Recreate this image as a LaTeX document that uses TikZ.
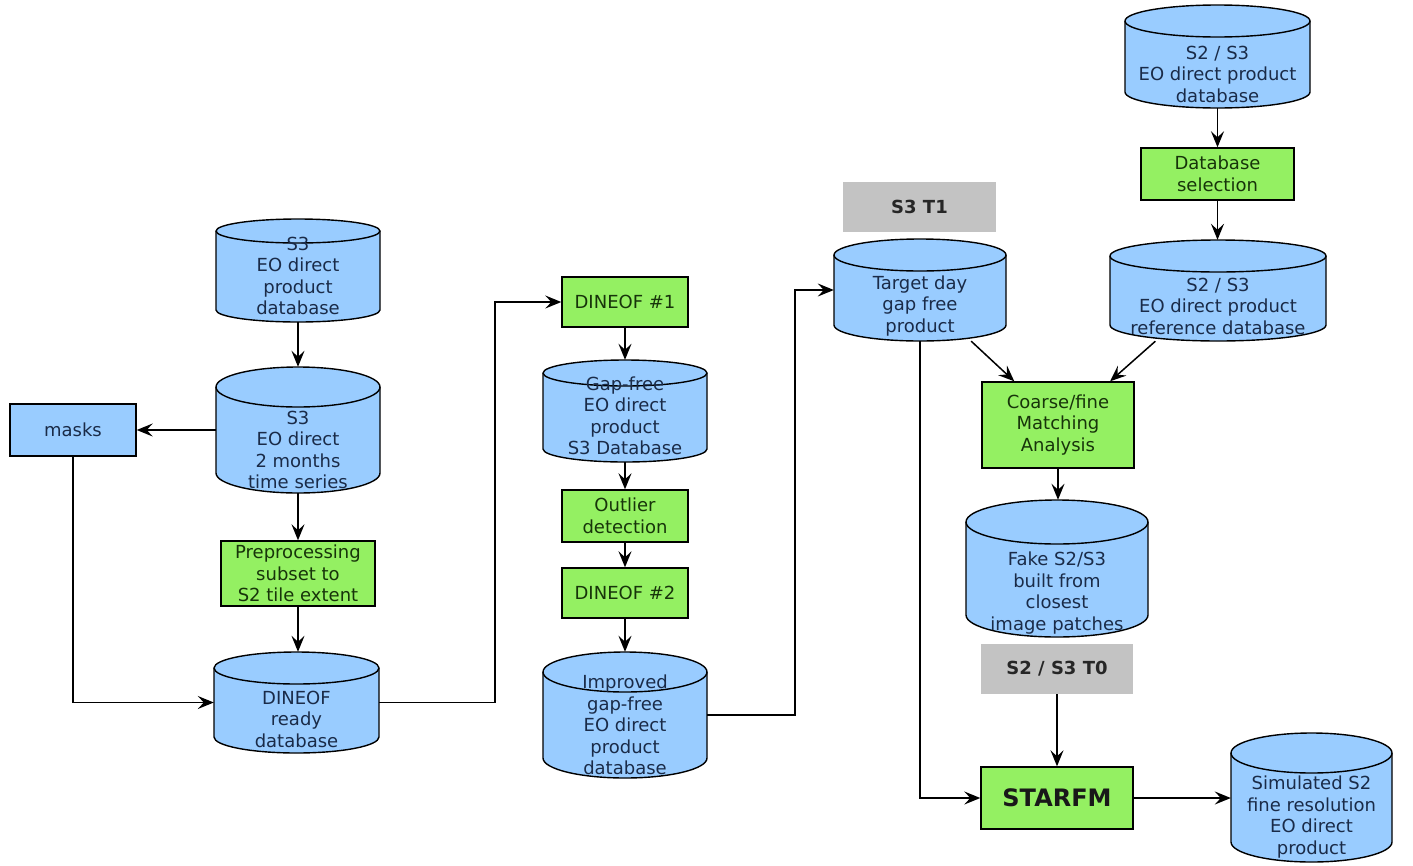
\documentclass[tikz,border=0pt]{standalone}
\usepackage{fontspec}
\setmainfont{DejaVu Sans}
\usetikzlibrary{arrows.meta,calc}
\definecolor{cylblue}{HTML}{99CCFF}
\definecolor{boxgreen}{HTML}{94F062}
\definecolor{boxgray}{HTML}{C3C3C3}
\definecolor{bluetext}{HTML}{1A2B48}
\definecolor{greentext}{HTML}{17340A}
\tikzset{
  every node/.style={font=\fontsize{18}{21.5}\selectfont, align=center, inner sep=0pt},
  greenbox/.style={draw=black, line width=1.4pt, fill=boxgreen, text=greentext},
  bluebox/.style={draw=black, line width=1.4pt, fill=cylblue, text=bluetext},
  graybox/.style={fill=boxgray, text=black!85, font=\fontsize{18}{21.5}\selectfont\bfseries},
  cylbody/.style={draw=black, line width=1.4pt, fill=cylblue},
  cyltext/.style={text=bluetext},
  arr/.style={line width=1.5pt, -{Stealth[length=16pt,width=13pt,inset=6pt]}},
}
% box: style name x1 y1 x2 y2 text
\newcommand{\mybox}[7]{%
  \node[#1, minimum width={(#5-#3)*1pt}, minimum height={(#6-#4)*1pt}] (#2) at ({(#3+#5)/2},{(#4+#6)/2}) {#7};}
% cylinder: name x1 x2 ytop ybot ry textY text
\newcommand{\mycyl}[8]{%
  \pgfmathsetmacro\rxx{(#3-#2)/2}%
  \filldraw[cylbody] (#2,#4+#6) -- (#2,#5-#6)
    arc[start angle=180,end angle=360,x radius=\rxx pt,y radius=#6pt]
    -- (#3,#4+#6)
    arc[start angle=0,end angle=180,x radius=\rxx pt,y radius=#6pt] -- cycle;
  \draw[line width=1.4pt] (#2,#4+#6) arc[start angle=180,end angle=360,x radius=\rxx pt,y radius=#6pt];
  \node[minimum width={(#3-#2)*1pt}, minimum height={(#5-#4)*1pt}] (#1) at ({(#2+#3)/2},{(#4+#5)/2}) {};
  \node[cyltext] (#1-t) at ({(#2+#3)/2},#7) {#8};}
\begin{document}
\begin{tikzpicture}[x=1pt,y=-1pt]
\useasboundingbox (0,0) rectangle (1413,865);
\fill[white] (0,0) rectangle (1413,865);

% cylinders
\mycyl{s3db}{216}{380}{219}{322}{12}{276}{S3\\EO direct\\product\\database}
\mycyl{ts}{216}{380}{367}{493}{20}{450}{S3\\EO direct\\2 months\\time series}
\mycyl{ready}{214}{379}{652}{753}{16}{719}{DINEOF\\ready\\database}
\mycyl{gap}{543}{707}{360}{462}{13}{416}{Gap-free\\EO direct\\product\\S3 Database}
\mycyl{impr}{543}{707}{652}{778}{20}{725}{Improved\\gap-free\\EO direct\\product\\database}
\mycyl{target}{834}{1006}{239}{341}{16}{306}{Target day\\gap free\\product}
\mycyl{ref}{1110}{1326}{240}{341}{16}{306}{S2 / S3\\EO direct product\\reference database}
\mycyl{s23db}{1125}{1310}{5}{108}{16}{74}{S2 / S3\\EO direct product\\database}
\mycyl{fake}{966}{1148}{500}{637}{22}{593}{Fake S2/S3\\built from\\closest\\image patches}
\mycyl{sim}{1231}{1392}{733}{862}{20}{817}{Simulated S2\\fine resolution\\EO direct\\product}

% boxes
\mybox{bluebox}{masks}{10}{404}{136}{456}{masks}
\mybox{greenbox}{pre}{221}{541}{375}{606}{Preprocessing\\subset to\\S2 tile extent}
\mybox{greenbox}{d1}{562}{277}{688}{327}{DINEOF \#1}
\mybox{greenbox}{out}{562}{490}{688}{542}{Outlier\\detection}
\mybox{greenbox}{d2}{562}{568}{688}{618}{DINEOF \#2}
\mybox{greenbox}{coarse}{982}{382}{1134}{468}{Coarse/fine\\Matching\\Analysis}
\mybox{greenbox}{dbsel}{1141}{148}{1294}{200}{Database\\selection}
\mybox{graybox}{t1}{843}{182}{996}{232}{S3 T1}
\mybox{graybox}{t0}{981}{644}{1133}{694}{S2 / S3 T0}
\node[greenbox, text=black!90, font=\fontsize{24}{28}\selectfont\bfseries, minimum width=152pt, minimum height=62pt] (starfm) at (1057,798) {STARFM};

% connectors
\coordinate (k1) at (495,0);
\coordinate (k2) at (795,0);
\draw[arr] (ts.north |- s3db.south) -- (ts.north);
\draw[arr] (ts.west) -- (masks.east);
\draw[arr] (ts.south) -- (ts.south |- pre.north);
\draw[arr] (pre.south) -- (pre.south |- ready.north);
\draw[arr] (masks.south) |- (ready.west);
\draw[arr] (ready.east) -- (ready.east -| k1) |- (d1.west);
\draw[arr] (d1.south) -- (gap.north);
\draw[arr] (gap.south) -- (out.north);
\draw[arr] (out.south) -- (d2.north);
\draw[arr] (d2.south) -- (impr.north);
\draw[arr] (impr.east) -- (impr.east -| k2) |- (target.west);
\draw[arr] (s23db.south) -- (s23db.south |- dbsel.north);
\draw[arr] (dbsel.south) -- (dbsel.south |- ref.north);
\draw[arr] (target.-45) -- (coarse.135);
\draw[arr] (ref.219) -- (coarse.40);
\draw[arr] (coarse.south) -- (coarse.south |- fake.north);
\draw[arr] (target.south) |- (starfm.west);
\draw[arr] (t0.south) -- (t0.south |- starfm.north);
\draw[arr] (starfm.east) -- (starfm.east -| sim.west);
\end{tikzpicture}
\end{document}
